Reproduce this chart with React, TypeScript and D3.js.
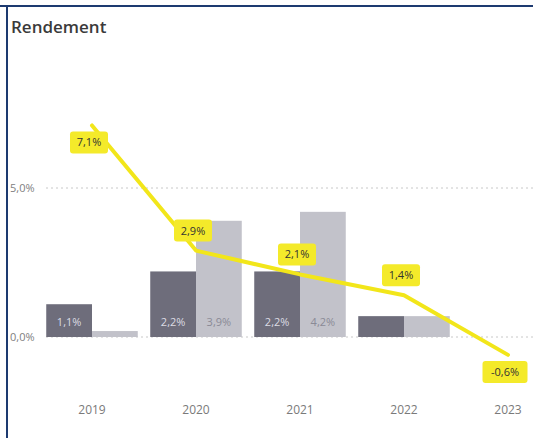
import React, { useEffect, useRef } from "react";
import * as d3 from "d3";

const years = ["2019", "2020", "2021", "2022", "2023"];
const seriesA = [1.1, 2.2, 2.2, 0.7, null];
const seriesB = [0.2, 3.9, 4.2, 0.7, null];
const lineValues = [7.1, 2.9, 2.1, 1.4, -0.6];
const lineLabelSide = ["below", "above", "above", "above", "below"];
const yTicks = [0, 5];

const fmt = (v: number) => v.toFixed(1).replace(".", ",") + "%";

export default function App() {
  const ref = useRef<SVGSVGElement>(null);

  useEffect(() => {
    if (!ref.current) return;
    const svg = d3.select(ref.current);
    svg.selectAll("*").remove();

    const W = 533;
    const H = 438;
    const font = "'Open Sans', 'Noto Sans', sans-serif";

    svg.append("rect").attr("width", W).attr("height", H).attr("fill", "#ffffff");

    // frame
    svg.append("rect").attr("x", 0).attr("y", 5).attr("width", W).attr("height", 2).attr("fill", "#1d3a70");
    svg.append("rect").attr("x", 6).attr("y", 5).attr("width", 2).attr("height", H).attr("fill", "#1d3a70");

    svg
      .append("text")
      .attr("x", 11)
      .attr("y", 33)
      .text("Rendement")
      .attr("font-family", font)
      .attr("font-size", 17)
      .attr("font-weight", 600)
      .attr("fill", "#3a3a3a");

    const x = d3.scaleBand().domain(years).range([40, 560]).paddingInner(0);
    const y = d3.scaleLinear().domain([0, 5]).range([337, 188]);
    const bw = x.bandwidth() * 0.44;

    // grid + y labels
    yTicks.forEach((t) => {
      svg
        .append("line")
        .attr("x1", 46)
        .attr("x2", W)
        .attr("y1", y(t))
        .attr("y2", y(t))
        .attr("stroke", "#c8c8c8")
        .attr("stroke-dasharray", "2,3");
      svg
        .append("text")
        .attr("x", 10)
        .attr("y", y(t) + 4)
        .text(fmt(t))
        .attr("font-family", font)
        .attr("font-size", 11)
        .attr("fill", "#808080");
    });

    // bars
    years.forEach((yr, i) => {
      const cx = x(yr)! + x.bandwidth() / 2;
      const a = seriesA[i];
      const b = seriesB[i];
      if (a != null) {
        svg
          .append("rect")
          .attr("x", cx - bw)
          .attr("y", y(a))
          .attr("width", bw)
          .attr("height", y(0) - y(a))
          .attr("fill", "#6e6d7b");
        if (a >= 1) {
          svg
            .append("text")
            .attr("x", cx - bw / 2)
            .attr("y", y(0) - 11)
            .attr("text-anchor", "middle")
            .text(fmt(a))
            .attr("font-family", font)
            .attr("font-size", 11)
            .attr("fill", "#dcdce4");
        }
      }
      if (b != null) {
        svg
          .append("rect")
          .attr("x", cx)
          .attr("y", y(b))
          .attr("width", bw)
          .attr("height", y(0) - y(b))
          .attr("fill", "#c2c2ca");
        if (b >= 1) {
          svg
            .append("text")
            .attr("x", cx + bw / 2)
            .attr("y", y(0) - 11)
            .attr("text-anchor", "middle")
            .text(fmt(b))
            .attr("font-family", font)
            .attr("font-size", 11)
            .attr("fill", "#8a8a96");
        }
      }
    });

    // line
    const pts = lineValues.map((v, i) => [x(years[i])! + x.bandwidth() / 2, y(v)] as [number, number]);
    svg
      .append("path")
      .attr("d", d3.line().curve(d3.curveLinear)(pts)!)
      .attr("fill", "none")
      .attr("stroke", "#f2e61a")
      .attr("stroke-width", 4)
      .attr("stroke-linejoin", "round")
      .attr("stroke-linecap", "round");

    // line labels
    lineValues.forEach((v, i) => {
      const [px, py] = pts[i];
      const cy = lineLabelSide[i] === "above" ? py - 20 : py + 17;
      const g = svg.append("g").attr("transform", `translate(${px - 3},${cy})`);
      const txt = fmt(v);
      const w = txt.length * 7 + 10;
      g.append("rect")
        .attr("x", -w / 2)
        .attr("y", -11)
        .attr("width", w)
        .attr("height", 22)
        .attr("rx", 3)
        .attr("fill", "#f4ea2a");
      g.append("text")
        .attr("y", 4)
        .attr("text-anchor", "middle")
        .text(txt)
        .attr("font-family", font)
        .attr("font-size", 11)
        .attr("fill", "#333333");
    });

    // x labels
    years.forEach((yr) => {
      svg
        .append("text")
        .attr("x", x(yr)! + x.bandwidth() / 2)
        .attr("y", 414)
        .attr("text-anchor", "middle")
        .text(yr)
        .attr("font-family", font)
        .attr("font-size", 12)
        .attr("fill", "#7a7a7a");
    });
  }, []);

  return (
    <svg
      ref={ref}
      width={533}
      height={438}
      style={{ position: "fixed", top: 0, left: 0, display: "block" }}
    />
  );
}
